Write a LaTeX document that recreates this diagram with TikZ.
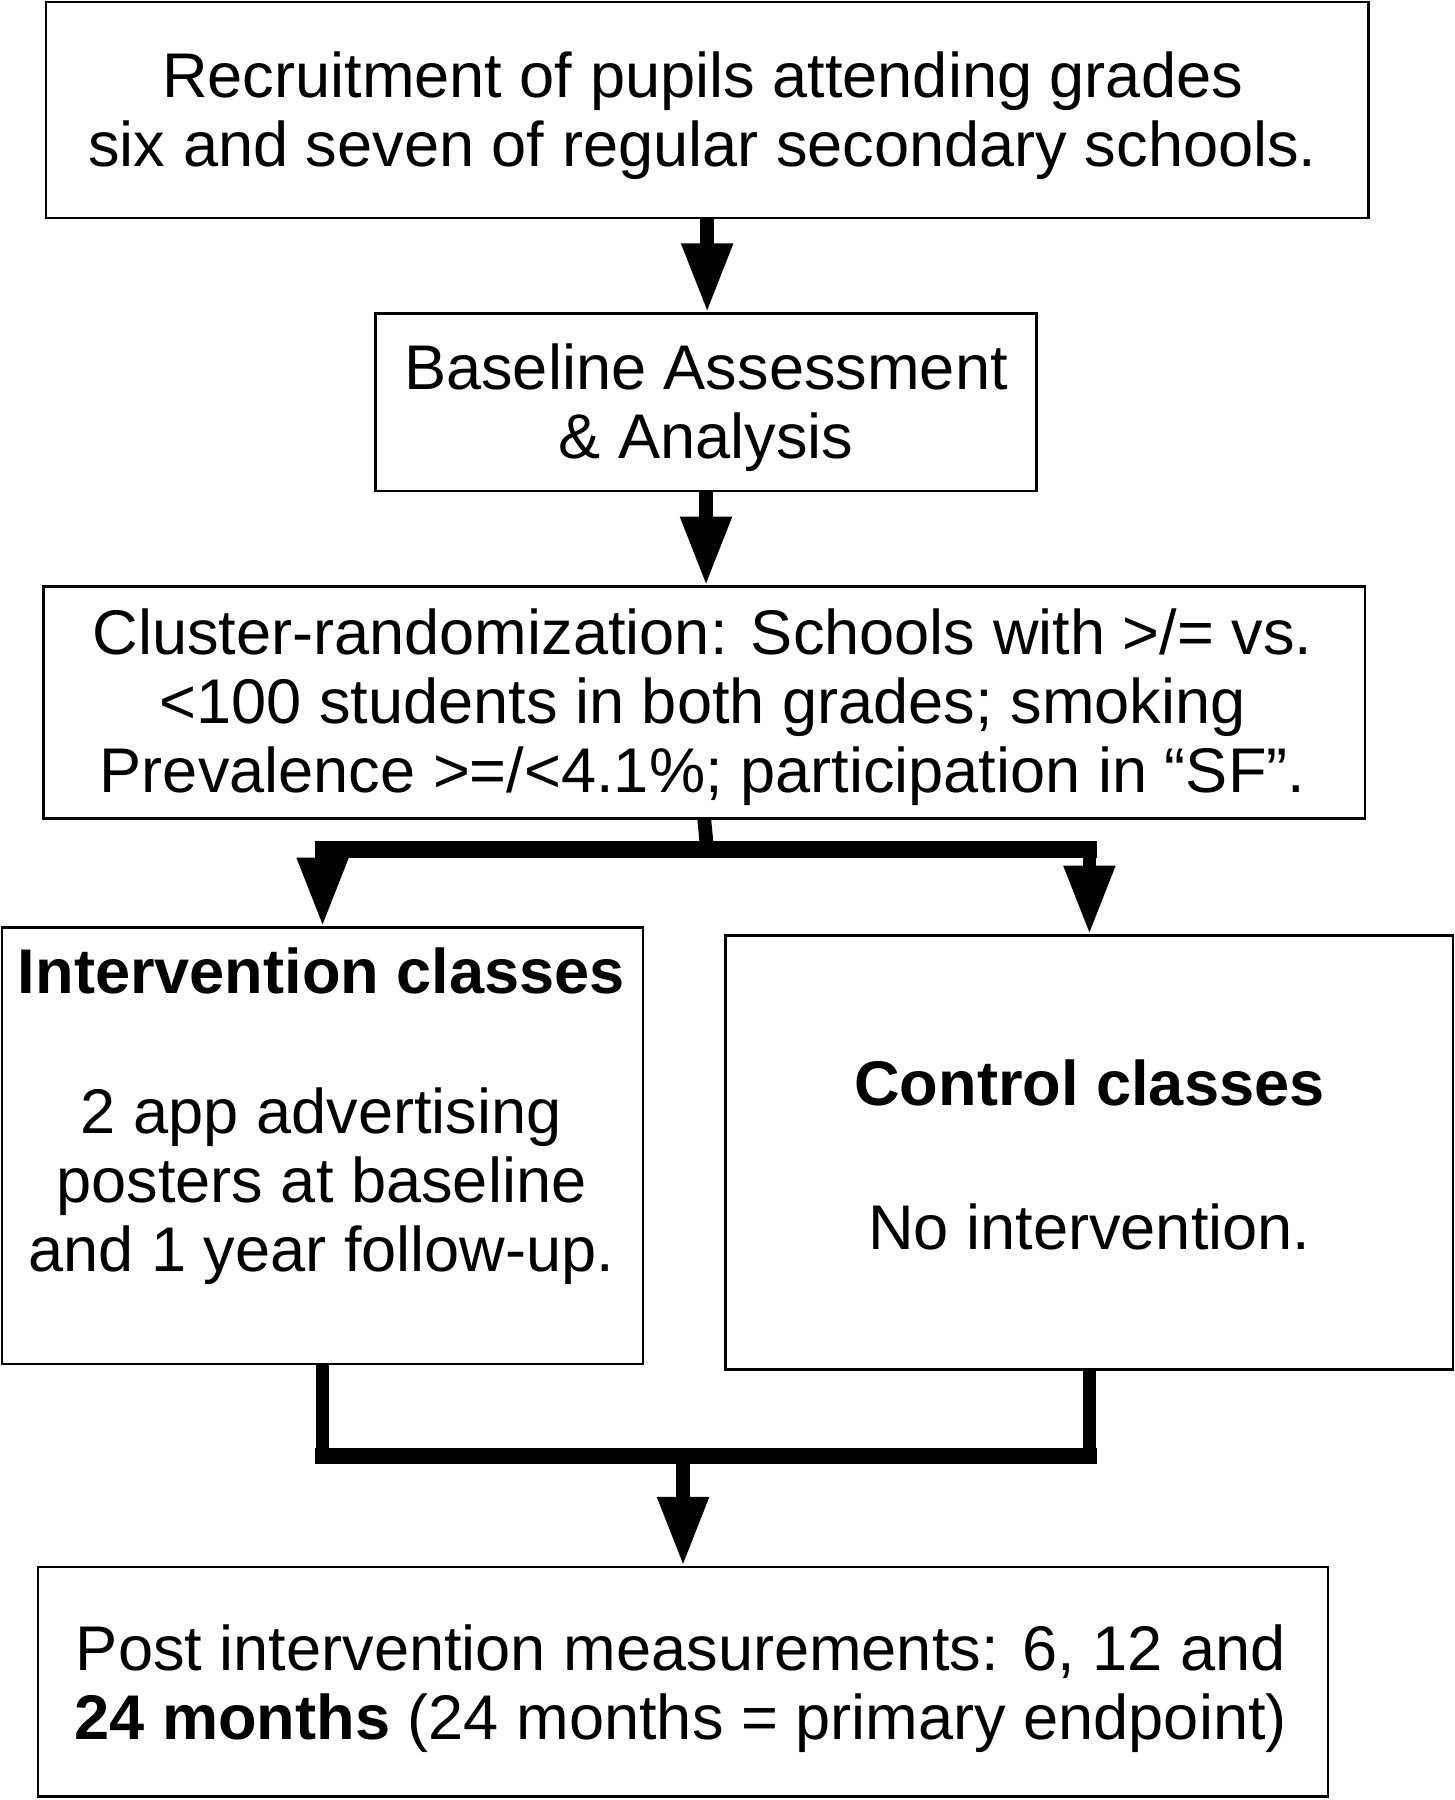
\documentclass[tikz,border=0pt]{standalone}
\usepackage{fontspec}
\setmainfont{Liberation Sans}
\usetikzlibrary{arrows.meta}
\begin{document}
\begin{tikzpicture}[x=0.5pt,y=-0.5pt,
  box/.style={draw=black,line width=1pt,inner sep=0pt,fill=white},
  txt/.style={align=center,inner sep=0pt,font=\fontsize{27.5}{30}\selectfont},
  arr/.style={line width=6pt,-{Triangle[width=21pt,length=30pt]}},
  stem/.style={line width=6pt},
  bar/.style={line width=7pt,line cap=rect,line join=round}]
\useasboundingbox[fill=white] (0,0) rectangle (1267,1568);
% boxes
\node[box,minimum width=576pt,minimum height=94pt] (b1) at (616,96) {};
\node[box,minimum width=288pt,minimum height=77.5pt] (b2) at (615,350.5) {};
\node[box,minimum width=575.5pt,minimum height=101pt] (b3) at (613.5,612) {};
\node[box,minimum width=279pt,minimum height=190pt] (b4) at (281,998) {};
\node[box,minimum width=317pt,minimum height=189pt] (b5) at (949,1004) {};
\node[box,minimum width=562pt,minimum height=100pt] (b6) at (595,1465) {};
% texts
\node[txt] (t1) at (612,101)
  {Recruitment of pupils attending grades\\six and seven of regular secondary schools.};
\node[txt] (t2) at (615,355)
  {Baseline Assessment\\\& Analysis};
\node[txt] (t3) at (612,616)
  {Cluster-randomization: Schools with >/= vs.\\<100 students in both grades; smoking\\Prevalence >=/<4.1\%; participation in “SF”.};
\node[txt] (t4) at (280,972.5)
  {\textbf{Intervention classes}\\[31pt]2 app advertising\\posters at baseline\\and 1 year follow-up.};
\node[txt] (t5) at (949,1006)
  {\textbf{Control classes}\\[32.5pt]No intervention.};
\node[txt] (t6) at (593,1471)
  {Post intervention measurements: 6, 12 and\\\textbf{24 months} (24 months = primary endpoint)};
% connectors
\draw[arr] (b1.south) -- (b1.south |- b2.north);
\draw[arr] (b2.south) -- (b2.south |- b3.north);
\coordinate (j1) at (616,740);
\draw[stem] (b3.south) -- (j1);
\draw[bar] (j1 -| b4.north) -- (j1 -| b5.north);
\draw[arr] (j1 -| b4.north) -- (b4.north);
\draw[arr] (j1 -| b5.north) -- (b5.north);
\coordinate (j2) at (595,1268);
\draw[stem] (b4.south) -- (b4.south |- j2);
\draw[stem] (b5.south) -- (b5.south |- j2);
\draw[bar] (b4.south |- j2) -- (b5.south |- j2);
\draw[arr] (j2) -- (b6.north);
\end{tikzpicture}
\end{document}
